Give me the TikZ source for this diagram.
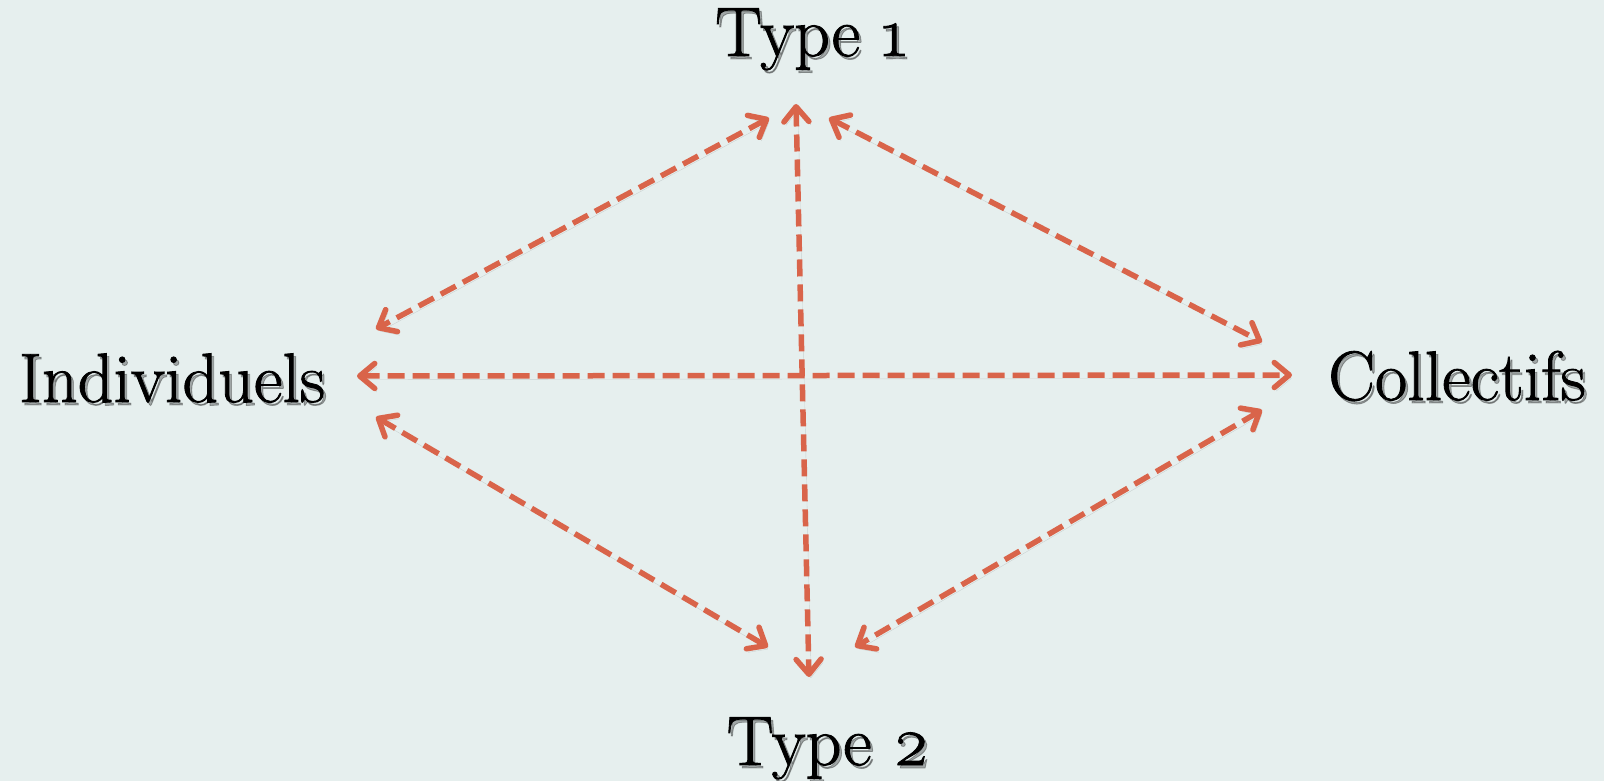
\documentclass[tikz,border=0pt]{standalone}
\usepackage{fontspec}
\usetikzlibrary{arrows.meta}

\newfontfamily\lblfont{Latin Modern Roman}[Numbers=OldStyle, FakeBold=1.2]

\definecolor{bgcol}{RGB}{230,239,238}
\definecolor{arrcol}{RGB}{217,100,74}

\begin{document}
\begin{tikzpicture}[x=1pt,y=-1pt,
  lbl/.style={anchor=base, inner sep=0pt, font=\lblfont\fontsize{70}{84}\selectfont},
  lblshadow/.style={lbl, black, opacity=0.3},
  link/.style={arrcol, line width=5.5pt, dash pattern=on 17pt off 8pt,
    {Straight Barb[length=15pt, width=25pt, round]}-{Straight Barb[length=15pt, width=25pt, round]},
    preaction={draw=black, opacity=0.12, transform canvas={shift={(2pt,-3.5pt)}}}}]

% background
\fill[bgcol] (0,0) rectangle (1604,781);
\useasboundingbox (0,0) rectangle (1604,781);

% labels
\node[lblshadow] (t1s) at (813.5,59) {Type 1};
\node[lbl] (t1) at (811,56) {Type 1};
\node[lblshadow] (t2s) at (830.5,768) {Type 2};
\node[lbl] (t2) at (828,765) {Type 2};
\node[lblshadow] (inds) at (174.5,405) {Individuels};
\node[lbl] (ind) at (172,402) {Individuels};
\node[lblshadow] (cols) at (1459.5,403) {Collectifs};
\node[lbl] (col) at (1457,400) {Collectifs};

% arrow ends
\coordinate (t1l) at (769,118);
\coordinate (t1m) at (796,104);
\coordinate (t1r) at (829,118);
\coordinate (indu) at (376,329);
\coordinate (indm) at (357,376);
\coordinate (indd) at (376,417);
\coordinate (colu) at (1262,342);
\coordinate (colm) at (1292,375);
\coordinate (cold) at (1262,410);
\coordinate (t2l) at (768,647);
\coordinate (t2m) at (809,677);
\coordinate (t2r) at (855,647);

% links
\draw[link] (t1l) -- (indu);
\draw[link] (t1r) -- (colu);
\draw[link] (indm) -- (colm);
\draw[link] (t1m) -- (t2m);
\draw[link] (indd) -- (t2l);
\draw[link] (cold) -- (t2r);
\end{tikzpicture}
\end{document}
